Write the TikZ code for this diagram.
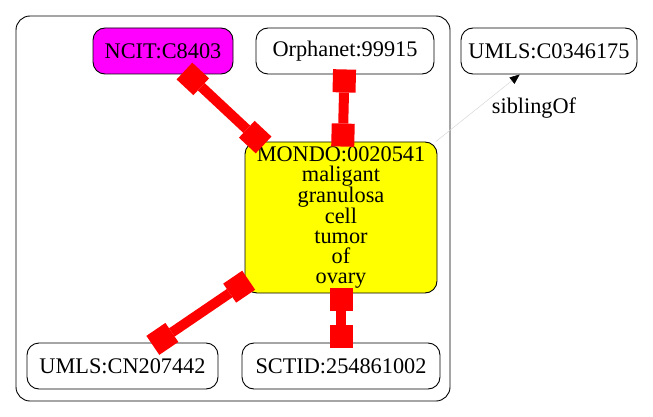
\documentclass[tikz,border=0pt]{standalone}
\usepackage{fontspec}
\setmainfont{Liberation Serif}
\usetikzlibrary{arrows.meta}
\definecolor{nodemag}{HTML}{FF00FF}
\definecolor{nodeyel}{HTML}{FFFF00}
\definecolor{edgered}{HTML}{FF0000}
\definecolor{siblinegray}{HTML}{D8D8D8}
\begin{document}
\begin{tikzpicture}[x=1pt,y=-1pt,
  box/.style={draw=black, line width=0.9pt, rounded corners=12pt, inner sep=0pt,
    font=\fontsize{22.3}{20}\selectfont, align=center, minimum height=46pt},
  clusterbox/.style={draw=black, line width=0.9pt, rounded corners=14pt, inner sep=0pt},
  synedge/.style={draw=edgered, line width=10pt,
    {Square[length=23pt,width=23pt,line width=0pt]}-{Square[length=23pt,width=23pt,line width=0pt]},
    shorten <=-5pt, shorten >=-5pt},
  sibedge/.style={draw=siblinegray, line width=0.5pt,
    -{Triangle[length=10pt,width=8pt,black]}},
  lbl/.style={font=\fontsize{22.3}{20}\selectfont, inner sep=0pt}
]
\useasboundingbox (0,0) rectangle (653,417);
\node[clusterbox, minimum width=434pt, minimum height=385pt] (cluster) at (233,208.5) {};
\node[box, minimum width=140pt, fill=nodemag] (ncit) at (163,51) {NCIT:C8403};
\node[box, minimum width=178pt] (orpha) at (345,51) {Orphanet:99915};
\node[box, minimum width=176pt] (umls) at (549,51) {UMLS:C0346175};
\node[box, minimum width=192pt, minimum height=151pt, fill=nodeyel] (mondo) at (341,217.5)
  {MONDO:0020541\\maligant\\granulosa\\cell\\tumor\\of\\ovary};
\node[box, minimum width=191pt] (cn) at (122.5,366) {UMLS:CN207442};
\node[box, minimum width=198pt] (sctid) at (341,366) {SCTID:254861002};
\draw[synedge] (ncit) -- (mondo);
\draw[synedge] (orpha) -- (mondo);
\draw[synedge] (mondo) -- (cn);
\draw[synedge] (mondo) -- (sctid);
\draw[sibedge] (mondo) -- (umls);
\node[lbl] (siblab) at (534,108) {siblingOf};
\end{tikzpicture}
\end{document}
